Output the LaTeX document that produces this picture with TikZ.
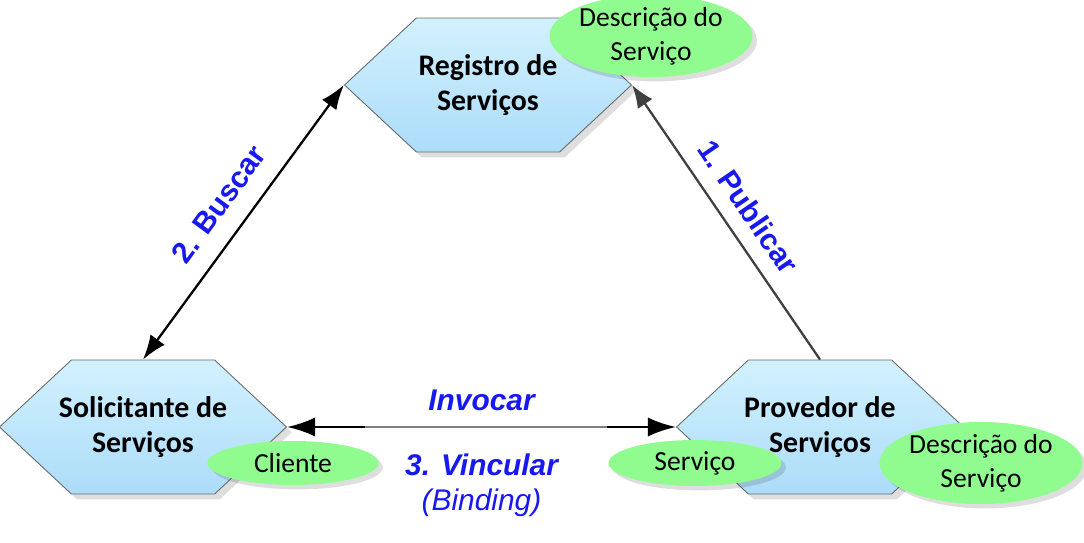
\documentclass[tikz,border=0pt]{standalone}
\usepackage{fontspec}
\setmainfont{Carlito}
\newfontfamily\labelfont{Liberation Sans}
\usepackage{tikz}
\usetikzlibrary{arrows.meta,positioning,shapes.geometric,shapes.symbols,shadows}

\definecolor{hextop}{RGB}{210,241,254}
\definecolor{hexbottom}{RGB}{172,220,249}
\definecolor{hexborder}{RGB}{105,105,105}
\definecolor{descgreen}{RGB}{144,252,144}
\definecolor{opblue}{RGB}{24,24,240}
\definecolor{arcgray}{RGB}{64,64,64}
\definecolor{midgray}{RGB}{128,128,128}

% a line wider than the text box, kept centred
\newcommand{\wideline}[1]{\makebox[0pt]{#1}}

\tikzset{
    role/.style={signal, signal to=east and west, signal pointer angle=86,
        draw=hexborder, line width=0.5pt, top color=hextop, bottom color=hexbottom,
        minimum width=5.74cm, minimum height=2.68cm, inner sep=0pt,
        text width=2.7cm, align=flush center,
        font=\bfseries\fontsize{17}{19.8}\selectfont,
        drop shadow={shadow xshift=3pt, shadow yshift=-3pt, fill=black, opacity=0.13}},
    desc/.style={ellipse, fill=descgreen, inner sep=0pt, align=center,
        font=\fontsize{15.7}{19.5}\selectfont,
        drop shadow={shadow xshift=2.5pt, shadow yshift=-2.5pt, fill=black, opacity=0.13}},
    oplabel/.style={text=opblue, font=\labelfont\bfseries\fontsize{17}{20}\selectfont, align=center},
    link/.style={line width=1.3pt, -{Latex[length=14pt,width=10pt]}},
}

\begin{document}
\begin{tikzpicture}[x=0.02cm, y=-0.02cm]
        \useasboundingbox (0, 0) rectangle (1084, 543);

        % Roles
        \node[role] (reg) at (488, 85) {\wideline{Registro de}\\Serviços};
        \node[role] (sol) at (143, 427) {\wideline{Solicitante de}\\Serviços};
        \node[role] (prov) at (820, 427) {\wideline{Provedor de}\\Serviços};

        % Descriptions
        \node[desc, minimum width=3.92cm, minimum height=1.16cm] (regdesc) at (651, 36) {Descrição do\\Serviço};
        \node[desc, minimum width=3.42cm, minimum height=0.88cm] (cliente) at (293, 463) {Cliente};
        \node[desc, minimum width=3.46cm, minimum height=0.92cm] (servico) at (695, 463) {Serviço};
        \node[desc, minimum width=3.92cm, minimum height=1.24cm] (provdesc) at (981, 463) {Descrição do\\Serviço};

        % Arcs
        \draw[link, {Latex[length=14pt,width=10pt]}-{Latex[length=14pt,width=10pt]}] (sol.north)
            -- node[oplabel, sloped, above=0.26cm] (buscar) {2. Buscar} (reg.west);
        \draw[link, draw=arcgray, -{Latex[length=13pt,width=10pt,fill=arcgray]}] (prov.north)
            -- node[oplabel, sloped, above=0.18cm] (publicar) {1. Publicar} (reg.east);
        \draw[link, line width=1.5pt, {Latex[length=16pt,width=11pt]}-{Latex[length=16pt,width=11pt]}] (sol.east)
            -- node[oplabel, above=0.18cm] (invocar) {\itshape Invocar}
               node[oplabel, below=0.4cm] (vincular) {\itshape 3. Vincular\\\mdseries\itshape (Binding)} (prov.west);
        \draw[line width=1.5pt, draw=midgray, shorten <=1.56cm, shorten >=1.38cm] (sol.east) -- (prov.west);
    \end{tikzpicture}
\end{document}
